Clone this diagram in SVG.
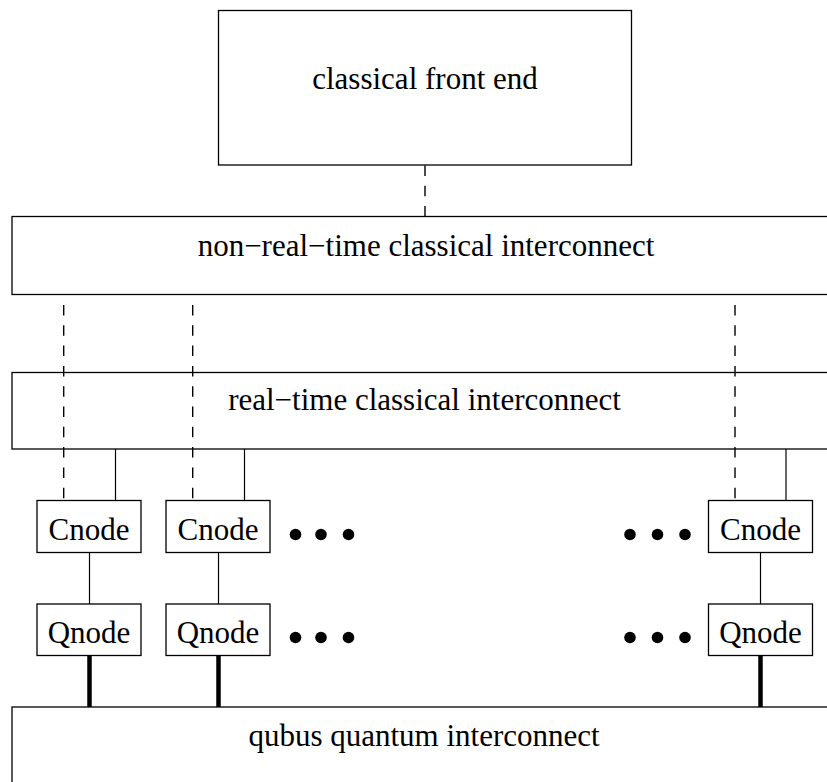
<svg xmlns="http://www.w3.org/2000/svg" width="827" height="782" viewBox="0 0 827 782">
<style>
.box{fill:#fff;stroke:#000;stroke-width:1.3}
.t{font-family:"Liberation Serif","Times New Roman",serif;font-size:31px;fill:#000;text-anchor:middle}
.dash{stroke:#000;stroke-width:1.4;stroke-dasharray:10.5,9.8;fill:none}
.solid{stroke:#000;stroke-width:1.2;fill:none}
.thick{stroke:#000;stroke-width:4.5;fill:none}
</style>
<rect width="827" height="782" fill="#fff"/>
<g id="connectors">
<line class="dash" x1="425" y1="165.5" x2="425" y2="216.5"/>
<line class="dash" x1="63.7" y1="305" x2="63.7" y2="500.5"/>
<line class="dash" x1="192.7" y1="305" x2="192.7" y2="500.5"/>
<line class="dash" x1="735" y1="305" x2="735" y2="500.5"/>
<line class="solid" x1="115.5" y1="449" x2="115.5" y2="500.5"/>
<line class="solid" x1="244.5" y1="449" x2="244.5" y2="500.5"/>
<line class="solid" x1="786" y1="449" x2="786" y2="500.5"/>
<line class="solid" x1="89.5" y1="552.5" x2="89.5" y2="604"/>
<line class="solid" x1="218.5" y1="552.5" x2="218.5" y2="604"/>
<line class="solid" x1="760.5" y1="552.5" x2="760.5" y2="604"/>
<line class="thick" x1="89.5" y1="655.5" x2="89.5" y2="707"/>
<line class="thick" x1="218.5" y1="655.5" x2="218.5" y2="707"/>
<line class="thick" x1="760.5" y1="655.5" x2="760.5" y2="707"/>
</g>
<g id="front-end">
<rect class="box" x="218.5" y="10.5" width="413" height="154.5"/>
<text class="t" x="425" y="88.5">classical front end</text>
</g>
<g id="non-real-time">
<rect class="box" x="12" y="216.5" width="830" height="78" style="fill:none"/>
<text class="t" x="426" y="255.5">non−real−time classical interconnect</text>
</g>
<g id="real-time">
<rect class="box" x="12" y="372.5" width="830" height="76.5" style="fill:none"/>
<text class="t" x="424.5" y="410">real−time classical interconnect</text>
</g>
<g id="cnode1"><rect class="box" x="37" y="500.5" width="104" height="52"/><text class="t" x="89" y="539.5">Cnode</text></g>
<g id="cnode2"><rect class="box" x="166" y="500.5" width="104" height="52"/><text class="t" x="218" y="539.5">Cnode</text></g>
<g id="cnode3"><rect class="box" x="708.5" y="500.5" width="104" height="52"/><text class="t" x="760.5" y="539.5">Cnode</text></g>
<g id="qnode1"><rect class="box" x="37" y="604" width="104" height="51.5"/><text class="t" x="89" y="643">Qnode</text></g>
<g id="qnode2"><rect class="box" x="166" y="604" width="104" height="51.5"/><text class="t" x="218" y="643">Qnode</text></g>
<g id="qnode3"><rect class="box" x="708.5" y="604" width="104" height="51.5"/><text class="t" x="760.5" y="643">Qnode</text></g>
<g id="dots">
<circle cx="295.5" cy="534.5" r="5.8"/><circle cx="321" cy="534.5" r="5.8"/><circle cx="348.5" cy="534.5" r="5.8"/>
<circle cx="630" cy="534.5" r="5.8"/><circle cx="657.5" cy="534.5" r="5.8"/><circle cx="685" cy="534.5" r="5.8"/>
<circle cx="295.5" cy="637.5" r="5.8"/><circle cx="321" cy="637.5" r="5.8"/><circle cx="348.5" cy="637.5" r="5.8"/>
<circle cx="630" cy="637.5" r="5.8"/><circle cx="657.5" cy="637.5" r="5.8"/><circle cx="685" cy="637.5" r="5.8"/>
</g>
<g id="qubus">
<rect class="box" x="12" y="707" width="830" height="90" style="fill:none"/>
<text class="t" x="424" y="745.5">qubus quantum interconnect</text>
</g>
</svg>
